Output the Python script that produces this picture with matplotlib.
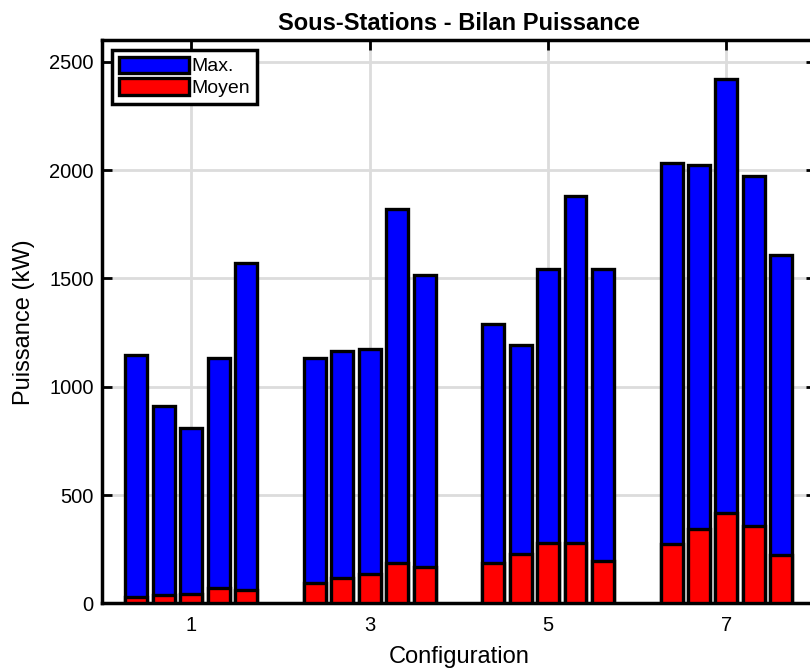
import numpy as np
import matplotlib
matplotlib.use("Agg")
import matplotlib.pyplot as plt

plt.rcParams['font.family'] = ['Liberation Sans', 'DejaVu Sans']

configs = [1, 3, 5, 7]
max_vals = [
    [1146, 911, 808, 1133, 1570],
    [1133, 1163, 1174, 1821, 1517],
    [1292, 1192, 1545, 1880, 1545],
    [2032, 2022, 2419, 1973, 1608],
]
moy_vals = [
    [30, 38, 42, 70, 60],
    [95, 118, 138, 185, 170],
    [187, 228, 278, 278, 198],
    [274, 343, 417, 356, 224],
]

fig = plt.figure(figsize=(8.1, 6.69), dpi=100)
ax = fig.add_axes([0.126, 0.098, 0.881, 0.842])

# MATLAB-style grouped bars: 5 bars per configuration
n = 5
step = 2 * (n / (n + 1.5)) / n
width = 0.8 * step
offsets = (np.arange(n) - (n - 1) / 2) * step

for k in range(n):
    xs = np.array(configs) + offsets[k]
    mx = [g[k] for g in max_vals]
    mo = [g[k] for g in moy_vals]
    ax.bar(xs, mx, width, color="#0000ff", edgecolor="black", linewidth=2.4,
           label="Max." if k == 0 else None, zorder=3)
    ax.bar(xs, mo, width, color="#ff0000", edgecolor="black", linewidth=2.4,
           label="Moyen" if k == 0 else None, zorder=3)

ax.set_xlim(0, 8)
ax.set_ylim(0, 2600)
ax.set_xticks(configs)
ax.set_yticks([0, 500, 1000, 1500, 2000, 2500])
ax.grid(True, color="#dcdcdc", linewidth=2, zorder=0)
ax.set_axisbelow(True)
ax.tick_params(direction="in", length=7, width=2, top=True, right=True,
               labelsize=14.5)
ax.tick_params(axis="x", pad=9)
ax.tick_params(axis="y", pad=6)
for s in ax.spines.values():
    s.set_linewidth(2.5)

ax.set_title("Sous-Stations - Bilan Puissance", fontsize=17, fontweight="bold", pad=7)
ax.set_xlabel("Configuration", fontsize=17, labelpad=8)
ax.set_ylabel("Puissance (kW)", fontsize=17, labelpad=10)

leg = ax.legend(loc="upper left", fontsize=14, fancybox=False, framealpha=1,
                edgecolor="black", handlelength=3.6, handleheight=0.9,
                borderpad=0.35, labelspacing=0.15, handletextpad=0.15,
                borderaxespad=0.5)
leg.get_frame().set_linewidth(2.5)

fig.savefig("out.png", dpi=100)
